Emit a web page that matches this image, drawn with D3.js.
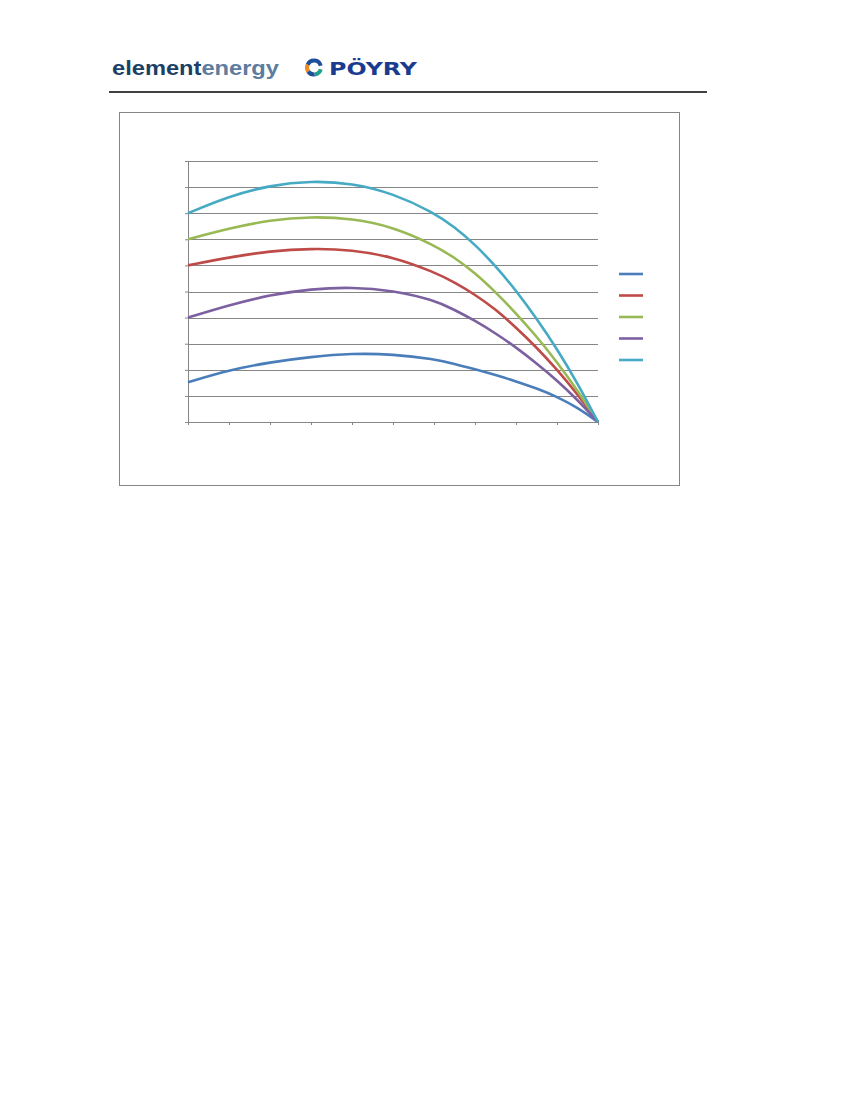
<!DOCTYPE html>
<html>
<head>
<meta charset="utf-8">
<script src="https://cdn.jsdelivr.net/npm/d3@7/dist/d3.min.js"></script>
<style>
  html, body { margin: 0; padding: 0; background: #fff; }
  svg { display: block; }
</style>
</head>
<body>
<script>
// ---------- data ----------
const xValues = [0, 1, 2, 3, 4, 5, 6, 6.5, 7, 7.5, 8, 8.5, 9, 9.5, 10];
const xTicks = [0, 1, 2, 3, 4, 5, 6, 7, 8, 9, 10];
const yTicks = [0, 1, 2, 3, 4, 5, 6, 7, 8, 9, 10];
const series1 = [1.52, 1.99, 2.29, 2.50, 2.63, 2.60, 2.41, 2.23, 2.02, 1.80, 1.56, 1.29, 0.97, 0.55, 0];
const series2 = [6.00, 6.31, 6.55, 6.65, 6.60, 6.33, 5.75, 5.35, 4.88, 4.32, 3.62, 2.86, 2.01, 1.06, 0];
const series3 = [7.00, 7.42, 7.74, 7.87, 7.80, 7.48, 6.78, 6.30, 5.71, 4.98, 4.17, 3.28, 2.30, 1.21, 0];
const series4 = [4.00, 4.48, 4.87, 5.10, 5.17, 5.04, 4.67, 4.30, 3.88, 3.40, 2.86, 2.25, 1.60, 0.85, 0];
const series5 = [8.00, 8.65, 9.07, 9.24, 9.15, 8.76, 8.02, 7.47, 6.80, 5.98, 5.04, 3.97, 2.80, 1.49, 0];
const seriesList = [series1, series2, series3, series4, series5];
const colors = ["#4a7ebb", "#be4b48", "#98b954", "#7d60a0", "#46aac5"];

// ---------- page ----------
const svg = d3.select("body").append("svg")
  .attr("width", 850).attr("height", 1100);

// header logos
const logo = svg.append("text")
  .attr("x", 112).attr("y", 75)
  .attr("font-family", "Liberation Sans, Arial, sans-serif")
  .attr("font-weight", "bold")
  .attr("font-size", 20.5)
  .attr("textLength", 167)
  .attr("lengthAdjust", "spacingAndGlyphs");
logo.append("tspan").attr("fill", "#1c3f66").text("element");
logo.append("tspan").attr("fill", "#5d7c9e").text("energy");

// Pöyry icon
const icon = svg.append("g").attr("transform", "translate(314,67.5)");
const arcGen = d3.arc().innerRadius(5).outerRadius(9);
const deg = Math.PI / 180;
[
  [-125, -65, "#f08a1c"],
  [-65, 75, "#1d4f9a"],
  [105, 175, "#1fa08c"],
  [175, 235, "#1d4f9a"]
].forEach(([a0, a1, c]) => {
  icon.append("path")
    .attr("d", arcGen({startAngle: a0 * deg, endAngle: a1 * deg}))
    .attr("fill", c);
});

svg.append("text")
  .attr("x", 329).attr("y", 74.5)
  .attr("font-family", "DejaVu Sans, Verdana, sans-serif")
  .attr("font-weight", "bold")
  .attr("font-size", 17)
  .attr("textLength", 88)
  .attr("lengthAdjust", "spacingAndGlyphs")
  .attr("fill", "#1a3b8f")
  .text("PÖYRY");

// header rule
svg.append("line")
  .attr("x1", 109).attr("x2", 707).attr("y1", 92).attr("y2", 92)
  .attr("stroke", "#000").attr("stroke-width", 1.6);

// chart frame
svg.append("rect")
  .attr("x", 119.5).attr("y", 112.5).attr("width", 560).attr("height", 373)
  .attr("fill", "#fff").attr("stroke", "#868686").attr("stroke-width", 1);

// scales
const x = d3.scaleLinear().domain([0, 10]).range([188, 598]);
const y = d3.scaleLinear().domain([0, 10]).range([422, 161]);

// gridlines
svg.append("g").selectAll("line").data(yTicks.slice(1)).join("line")
  .attr("x1", x(0)).attr("x2", x(10))
  .attr("y1", d => Math.round(y(d)) + 0.5).attr("y2", d => Math.round(y(d)) + 0.5)
  .attr("stroke", "#868686").attr("stroke-width", 1);

// axes
const yAxis = svg.append("g")
  .attr("transform", `translate(${x(0)},0)`)
  .call(d3.axisLeft(y).tickValues(yTicks).tickSize(3).tickSizeOuter(0).tickFormat(""));
const xAxis = svg.append("g")
  .attr("transform", `translate(0,${y(0)})`)
  .call(d3.axisBottom(x).tickValues(xTicks).tickSize(3).tickSizeOuter(0).tickFormat(""));
[xAxis, yAxis].forEach(a => {
  a.selectAll("path,line").attr("stroke", "#868686").attr("stroke-width", 1);
});

// lines
const line = d3.line()
  .x((d, i) => x(xValues[i]))
  .y(d => y(d))
  .curve(d3.curveBasis);

svg.append("g").selectAll("path").data(seriesList).join("path")
  .attr("d", d => line(d))
  .attr("fill", "none")
  .attr("stroke", (d, i) => colors[i])
  .attr("stroke-width", 2.6)
  .attr("stroke-linejoin", "round");

// legend
const legendY = [274, 295.5, 317, 338.5, 360];
svg.append("g").selectAll("line").data(seriesList).join("line")
  .attr("x1", 619).attr("x2", 643)
  .attr("y1", (d, i) => legendY[i]).attr("y2", (d, i) => legendY[i])
  .attr("stroke", (d, i) => colors[i])
  .attr("stroke-width", 2.6);
</script>
</body>
</html>
